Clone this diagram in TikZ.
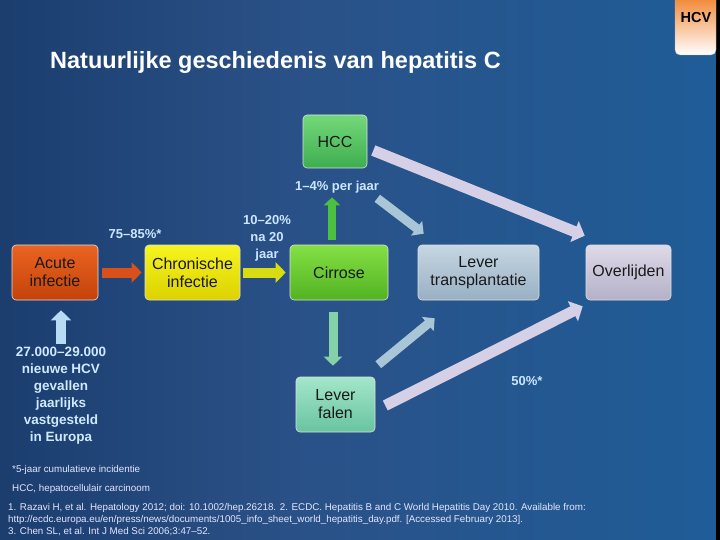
\documentclass[tikz,border=0pt]{standalone}
\usepackage{fontspec}
\setmainfont{Liberation Sans}
\usetikzlibrary{arrows.meta}

\definecolor{bgleft}{HTML}{0F2F5C}
\definecolor{bgmid}{HTML}{2A5187}
\definecolor{bgright}{HTML}{1766A6}
\definecolor{lbl}{HTML}{CCE6FF}
\definecolor{arrOrange}{HTML}{D9501A}
\definecolor{arrYellow}{HTML}{D8DC10}
\definecolor{arrGreen}{HTML}{4CC040}
\definecolor{arrTeal}{HTML}{86D2A8}
\definecolor{arrGrey}{HTML}{A9C6D6}
\definecolor{arrLav}{HTML}{D6D0E6}
\definecolor{arrIn}{HTML}{B8DCF4}
\definecolor{acuteTop}{HTML}{EA6422}
\definecolor{acuteBot}{HTML}{C4420A}
\definecolor{chronTop}{HTML}{F6F420}
\definecolor{chronBot}{HTML}{DCD200}
\definecolor{cirTop}{HTML}{84E044}
\definecolor{cirBot}{HTML}{52B222}
\definecolor{hccTop}{HTML}{74D87A}
\definecolor{hccBot}{HTML}{3EAE50}
\definecolor{transTop}{HTML}{C6D6E2}
\definecolor{transBot}{HTML}{98B0C4}
\definecolor{overTop}{HTML}{DEDAE8}
\definecolor{overBot}{HTML}{B4B0C8}
\definecolor{falenTop}{HTML}{A4E6CA}
\definecolor{falenBot}{HTML}{68C4A0}
\definecolor{tabTop}{HTML}{F07C22}
\pgfdeclarehorizontalshading{slidebg}{100bp}{color(0bp)=(bgleft); color(10bp)=(bgleft); color(45bp)=(bgmid); color(100bp)=(bgright)}

\tikzset{
  box/.style={rounded corners=4pt, draw=white!75!gray, line width=0.6pt, align=center,
    font=\fontsize{16}{18}\selectfont, minimum height=55pt, inner sep=2pt},
  blk/.style={line width=#1, -{Triangle[width=0pt 2, length=0pt 1]}},
  lbltxt/.style={font=\bfseries\fontsize{13}{17}\selectfont, text=lbl, align=center, inner sep=1pt},
  note/.style={font=\fontsize{9.8}{12}\selectfont, text=white!90!blue, anchor=base west, inner sep=0pt}
}

\begin{document}
\begin{tikzpicture}[x=1pt, y=-1pt]
  \useasboundingbox (0,0) rectangle (720,540);
  % Background
  \shade[shading=slidebg] (0,0) rectangle (720,540);
  \fill[black] (716,0) rectangle (720,540);
  \shade[top color=tabTop, bottom color=white, rounded corners=5pt, draw=gray!60] (675,-8) rectangle (716,55);
  \node[font=\bfseries\fontsize{14.5}{17}\selectfont, text=black] (tab) at (696,18) {HCV};

  % Title
  \node[anchor=base west, font=\bfseries\fontsize{23.5}{27}\selectfont, text=white, inner sep=0pt] (title) at (50,69) {Natuurlijke geschiedenis van hepatitis C};

  % Boxes
  \node[box, minimum width=86pt, top color=acuteTop, bottom color=acuteBot, text=black!90] (acute) at (55,272.5) {Acute\\infectie};
  \node[box, minimum width=95pt, top color=chronTop, bottom color=chronBot, text=black!90] (chron) at (192.5,272.5) {Chronische\\infectie};
  \node[box, minimum width=98pt, top color=cirTop, bottom color=cirBot, text=black!90] (cirrose) at (339,272.5) {Cirrose};
  \node[box, minimum width=64pt, minimum height=53pt, top color=hccTop, bottom color=hccBot, text=black!90] (hcc) at (335,141.5) {HCC};
  \node[box, minimum width=121pt, top color=transTop, bottom color=transBot, text=black!90] (transpl) at (478.5,272.5) {Lever\\transplantatie};
  \node[box, minimum width=85pt, top color=overTop, bottom color=overBot, text=black!90] (overl) at (628.5,272.5) {Overlijden};
  \node[box, minimum width=79pt, top color=falenTop, bottom color=falenBot, text=black!90] (falen) at (335.5,404.5) {Lever\\falen};

  % Labels
  \node[lbltxt] (l75) at (135,234) {75–85\%*};
  \node[lbltxt] (l1020) at (267,238) {10–20\%\\na 20\\jaar};
  \node[lbltxt] (l14) at (337,187) {1–4\% per jaar};
  \node[lbltxt] (l50) at (527,381) {50\%*};
  \node[lbltxt, font=\bfseries\fontsize{13.5}{17}\selectfont, text=lbl!90!white, anchor=north] (incid) at (61,346)
    {27.000–29.000\\nieuwe HCV\\gevallen\\jaarlijks\\vastgesteld\\in Europa};

  % Arrows
  \draw[blk=10pt, arrOrange, shorten <=4pt, shorten >=3pt] (acute) -- (chron);
  \draw[blk=10pt, arrYellow, shorten <=3pt, shorten >=4pt] (chron) -- (cirrose);
  \draw[blk=8pt, arrGreen, shorten <=5pt, shorten >=29pt] ([xshift=-7pt]cirrose.north) -- ([xshift=-7pt]cirrose.north |- hcc.south);
  \draw[blk=9pt, arrTeal, shorten <=12pt, shorten >=11pt] ([xshift=-6pt]cirrose.south) -- ([xshift=-6pt]cirrose.south |- falen.north);
  \draw[blk=10pt, arrIn, shorten <=2pt, shorten >=10pt] (incid.north) -- (incid.north |- acute.south);
  \draw[blk=9pt, arrGrey] ([shift={(10,30)}]hcc.south east) -- ([shift={(6,-11)}]transpl.north west);
  \draw[blk=9pt, arrGrey] ([shift={(3,-12)}]falen.north east) -- ([shift={(17,18)}]transpl.south west);
  \draw[blk=11pt, arrLav] ([shift={(6,9)}]hcc.east) -- ([shift={(-1,-9)}]overl.north west);
  \draw[blk=11pt, arrLav] ([shift={(10,1)}]falen.east) -- ([shift={(-3,6)}]overl.south west);

  % Footnotes
  \node[note] (n1) at (12,472) {*5-jaar cumulatieve incidentie};
  \node[note] (n2) at (12,491) {HCC, hepatocellulair carcinoom};
  \node[note] (r1) at (8,510) {1. Razavi H, et al. Hepatology 2012; doi: 10.1002/hep.26218. 2. ECDC. Hepatitis B and C World Hepatitis Day 2010. Available from:};
  \node[note] (r2) at (8,522) {http://ecdc.europa.eu/en/press/news/documents/1005\_info\_sheet\_world\_hepatitis\_day.pdf. [Accessed February 2013].};
  \node[note] (r3) at (8,534) {3. Chen SL, et al. Int J Med Sci 2006;3:47–52.};
\end{tikzpicture}
\end{document}
